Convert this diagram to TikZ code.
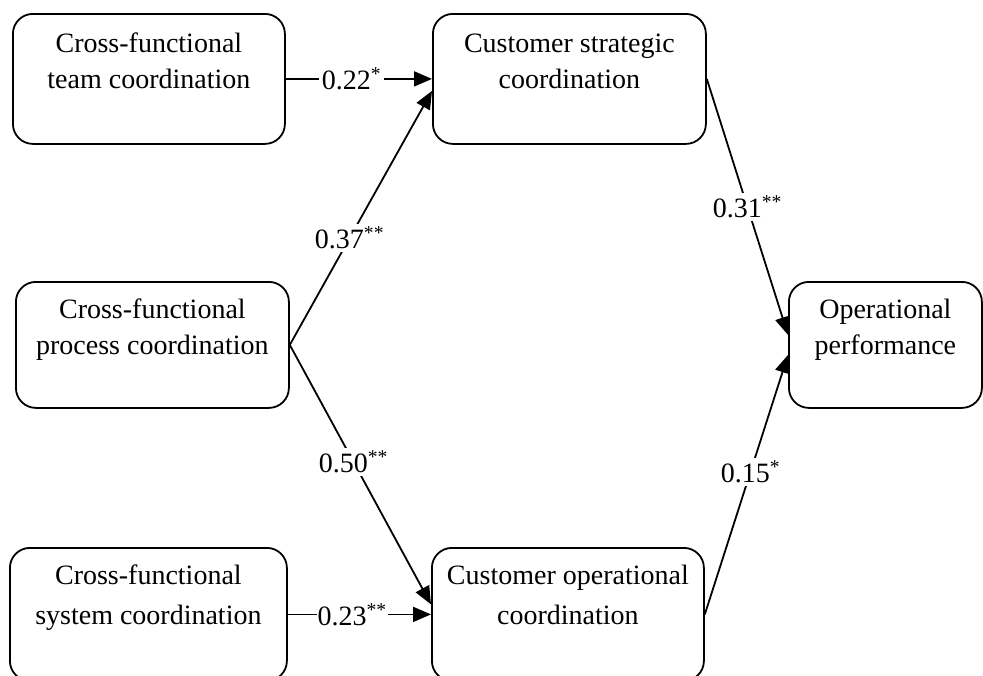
\documentclass[tikz,border=0pt]{standalone}
\usepackage{fontspec}
\setmainfont{Liberation Serif}
\usetikzlibrary{arrows.meta}
\begin{document}
\begin{tikzpicture}[x=1pt,y=-1pt,
  box/.style={draw, line width=1.8pt, rounded corners=20pt, anchor=north west,
    inner sep=0pt, align=center, font=\fontsize{28}{36}\selectfont},
  lowbox/.style={box, font=\fontsize{28}{40}\selectfont},
  conn/.style={line width=1.8pt, -{Triangle[length=18pt,width=15pt]}},
  lbl/.style={fill=white, inner sep=3pt, font=\fontsize{28}{33}\selectfont}]
\useasboundingbox (0,0) rectangle (983,675);
\clip (0,0) rectangle (983,675);

\node[box, minimum width=272pt, minimum height=130pt] (A) at (12,13)
  {Cross-functional\\team coordination\\\mbox{}};
\node[box, minimum width=273pt, minimum height=130pt] (S) at (432,13)
  {Customer strategic\\coordination\\\mbox{}};
\node[box, minimum width=273pt, minimum height=126pt] (B) at (15,281)
  {Cross-functional\\process coordination\\\mbox{}};
\node[box, minimum width=193pt, minimum height=126pt] (OP) at (788,281)
  {Operational\\performance\\\mbox{}};
\node[lowbox, minimum width=277pt, minimum height=133pt] (C) at (9,547)
  {Cross-functional\\system coordination\\\mbox{}};
\node[lowbox, minimum width=272pt, minimum height=133pt] (O) at (431,547)
  {Customer operational\\coordination\\\mbox{}};

\draw[conn] (A.east) -- node[lbl, pos=0.45] (l1) {0.22\textsuperscript{*}} (S.west);
\draw[conn] (B.east) -- node[lbl, pos=0.42] (l2) {0.37\textsuperscript{**}} ([yshift=-12pt]S.west);
\draw[conn] (B.east) -- node[lbl, pos=0.45] (l3) {0.50\textsuperscript{**}} ([yshift=10pt]O.west);
\draw[conn] (C.east) -- node[lbl, pos=0.45, inner sep=1pt] (l4) {0.23\textsuperscript{**}} (O.west);
\draw[conn] (S.east) -- node[lbl, pos=0.5] (l5) {0.31\textsuperscript{**}} ([yshift=10pt]OP.west);
\draw[conn] (O.east) -- node[lbl, pos=0.55] (l6) {0.15\textsuperscript{*}} ([yshift=-10pt]OP.west);
\end{tikzpicture}
\end{document}
